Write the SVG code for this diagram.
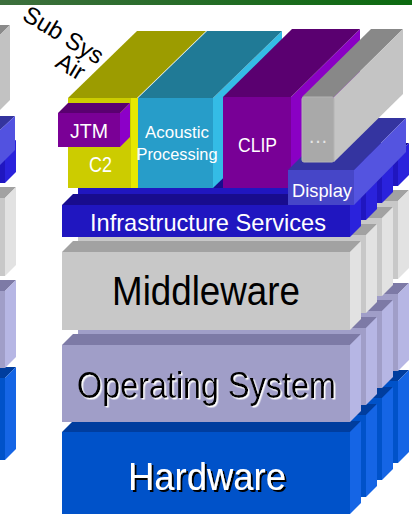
<svg xmlns="http://www.w3.org/2000/svg" xmlns:xlink="http://www.w3.org/1999/xlink" width="412" height="514" viewBox="0 0 412 514">
<defs>
<linearGradient id="barGrad" x1="0" x2="1" y1="0" y2="0"><stop offset="0" stop-color="#3d6f3d"/><stop offset="1" stop-color="#0c6a10"/></linearGradient>
<filter id="shB" x="-5%" y="-10%" width="115%" height="130%"><feDropShadow dx="2" dy="2" stdDeviation="0" flood-color="#000" flood-opacity="1"/></filter>
<filter id="shW" x="-5%" y="-10%" width="115%" height="130%"><feDropShadow dx="1.5" dy="1.5" stdDeviation="0" flood-color="#fff" flood-opacity="1"/></filter>
<style>
.t{font-family:"Liberation Sans",Arial,"DejaVu Sans",sans-serif;text-anchor:middle}
.w{fill:#fff}
.k{fill:#000}
.hwF{fill:#0052c9}.hwT{fill:#003d9e}.hwS{fill:#1565e5}
.osF{fill:#a09ec8}.osT{fill:#7d7aa6}.osS{fill:#b6b6e4}
.mwF{fill:#c8c8c8}.mwT{fill:#a2a2a2}.mwS{fill:#e2e2e2}
.inF{fill:#2016c0}.inT{fill:#180c8e}.inS{fill:#2a22dc}
.c2F{fill:#cccc00}.c2T{fill:#9c9c00}.c2S{fill:#e8e800}
.acF{fill:#279dc9}.acT{fill:#207a96}.acS{fill:#34bce6}
.clF{fill:#780096}.clT{fill:#5a0070}.clS{fill:#8a00c4}
.jtF{fill:#7a0096}.jtT{fill:#5a0070}.jtS{fill:#8c00c8}
.dpF{fill:#4646c8}.dpT{fill:#3434a0}.dpS{fill:#5454e0}
.mrF{fill:#a9a9a9}.mrT{fill:#888888}.mrS{fill:#c4c4c4}
</style>
<g id="colShape">
  <polygon class="hwT" points="62,432 350,432 361,421 73,421"/>
  <rect class="hwF" x="62" y="432" width="288" height="82"/>
  <polygon class="hwS" points="350,432 361,421 361,503 350,514"/>
  <polygon class="osT" points="62,345 350,345 361,334 73,334"/>
  <rect class="osF" x="62" y="345" width="288" height="77"/>
  <polygon class="osS" points="350,345 361,334 361,411 350,422"/>
  <polygon class="mwT" points="62,252 350,252 361,241 73,241"/>
  <rect class="mwF" x="62" y="252" width="288" height="78"/>
  <polygon class="mwS" points="350,252 361,241 361,319 350,330"/>
  <polygon class="inT" points="62,205 350,205 361,194 73,194"/>
  <rect class="inF" x="62" y="205" width="288" height="32"/>
  <polygon class="inS" points="350,205 361,194 361,226 350,237"/>
</g>
</defs>

<rect id="title-bar" x="0" y="0" width="412" height="5" fill="url(#barGrad)"/>

<g id="edge-stack">
  <use xlink:href="#colShape" transform="translate(-345,-54)"/>
  <polygon points="0,25 10,25 0,35" fill="#8a8a8a"/>
  <polygon points="0,35 10,25 10,100 0,110" fill="#c2c2c2"/>
  <polygon points="0,116 15,116 0,130" fill="#34349e"/>
  <polygon points="0,130 15,116 15,150 0,165" fill="#5252e0"/>
</g>

<g id="back-columns">
  <use xlink:href="#colShape" transform="translate(48,-51)"/>
  <use xlink:href="#colShape" transform="translate(32,-34)"/>
  <use xlink:href="#colShape" transform="translate(16,-17)"/>
</g>

<g id="hardware">
  <polygon class="hwT" points="62,432 350,432 361,421 73,421"/>
  <rect class="hwF" x="62" y="432" width="288" height="82"/>
  <polygon class="hwS" points="350,432 361,421 361,503 350,514"/>
  <text class="t w" x="207" y="490" font-size="38" textLength="158" lengthAdjust="spacingAndGlyphs" filter="url(#shB)">Hardware</text>
</g>

<g id="operating-system">
  <polygon class="osT" points="62,345 350,345 361,334 73,334"/>
  <rect class="osF" x="62" y="345" width="288" height="77"/>
  <polygon class="osS" points="350,345 361,334 361,411 350,422"/>
  <text class="t k" x="206.5" y="398" font-size="37" textLength="259" lengthAdjust="spacingAndGlyphs" filter="url(#shW)">Operating System</text>
</g>

<g id="middleware">
  <polygon class="mwT" points="62,252 350,252 361,241 73,241"/>
  <rect class="mwF" x="62" y="252" width="288" height="78"/>
  <polygon class="mwS" points="350,252 361,241 361,319 350,330"/>
  <text class="t k" x="206" y="305" font-size="41" textLength="188" lengthAdjust="spacingAndGlyphs">Middleware</text>
</g>

<g id="infrastructure-services">
  <polygon class="inT" points="62,205 350,205 361,194 73,194"/>
  <rect class="inF" x="62" y="205" width="288" height="32"/>
  <polygon class="inS" points="350,205 361,194 361,226 350,237"/>
  <text class="t w" x="208" y="231" font-size="24" textLength="236" lengthAdjust="spacingAndGlyphs">Infrastructure Services</text>
</g>

<g id="c2">
  <polygon class="c2T" points="68,98 137,98 206,31 137,31"/>
  <rect class="c2S" x="131" y="98" width="7" height="90"/>
  <rect class="c2F" x="68" y="98" width="63" height="90"/>
  <text class="t w" x="100.5" y="172" font-size="22" textLength="23" lengthAdjust="spacingAndGlyphs">C2</text>
</g>

<g id="acoustic-processing">
  <polygon class="acS" points="213,98 282,31 282,121 213,188"/>
  <polygon class="acT" points="138,98 213,98 282,31 207,31"/>
  <rect class="acF" x="138" y="98" width="75" height="90"/>
  <text class="t w" x="177" y="138" font-size="17" textLength="64" lengthAdjust="spacingAndGlyphs">Acoustic</text>
  <text class="t w" x="177" y="160" font-size="17" textLength="81" lengthAdjust="spacingAndGlyphs">Processing</text>
</g>

<g id="clip">
  <polygon class="clS" points="291,97 360,29 360,120 291,188"/>
  <polygon class="clT" points="223,97 291,97 360,29 292,29"/>
  <rect class="clF" x="223" y="97" width="68" height="91"/>
  <text class="t w" x="257.5" y="152" font-size="20" textLength="39" lengthAdjust="spacingAndGlyphs">CLIP</text>
</g>

<g id="jtm">
  <polygon class="jtT" points="58,113 120,113 130,103 68,103"/>
  <polygon class="jtS" points="120,113 130,103 130,137 120,147"/>
  <rect class="jtF" x="58" y="113" width="62" height="34"/>
  <text class="t w" x="89" y="138" font-size="21" textLength="38" lengthAdjust="spacingAndGlyphs">JTM</text>
</g>

<g id="display">
  <polygon class="dpT" points="288,170 354,170 406,118 340,118"/>
  <polygon class="dpS" points="354,170 406,118 406,152 354,205"/>
  <rect class="dpF" x="288" y="170" width="66" height="35"/>
  <text class="t w" x="322" y="197" font-size="19" textLength="60" lengthAdjust="spacingAndGlyphs">Display</text>
</g>

<g id="more">
  <polygon class="mrT" points="302,97 334,97 403,29 371,29"/>
  <polygon class="mrS" points="334,97 403,29 403,94 334,162"/>
  <rect class="mrF" x="302" y="97" width="32" height="65" rx="2" stroke="#b4b4b4" stroke-width="1"/>
  <text class="t" x="318" y="143" font-size="20" fill="#e6e6e6">…</text>
</g>

<g id="label-subsys">
  <text class="t k" style="text-anchor:start" font-size="24" transform="translate(21,19) rotate(31)">Sub Sys</text>
  <text class="t k" style="text-anchor:start" font-size="24" transform="translate(54,66) rotate(31)">Air</text>
</g>

<g id="connectors"/>
</svg>
